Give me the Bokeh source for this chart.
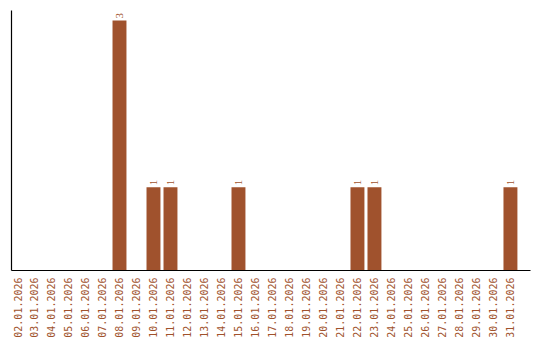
import math
from bokeh.plotting import figure
from bokeh.models import ColumnDataSource, Range1d, FixedTicker, LabelSet
from bokeh.embed import file_html
from bokeh.resources import INLINE

dates = ["02.01.2026", "03.01.2026", "04.01.2026", "05.01.2026", "06.01.2026",
         "07.01.2026", "08.01.2026", "09.01.2026", "10.01.2026", "11.01.2026",
         "12.01.2026", "13.01.2026", "14.01.2026", "15.01.2026", "16.01.2026",
         "17.01.2026", "18.01.2026", "19.01.2026", "20.01.2026", "21.01.2026",
         "22.01.2026", "23.01.2026", "24.01.2026", "25.01.2026", "26.01.2026",
         "27.01.2026", "28.01.2026", "29.01.2026", "30.01.2026", "31.01.2026"]
counts = [0, 0, 0, 0, 0, 0, 3, 0, 1, 1, 0, 0, 0, 1, 0, 0, 0, 0, 0, 0,
          1, 1, 0, 0, 0, 0, 0, 0, 0, 1]

COLOR = "#A0522D"
FONT = "DejaVu Sans Mono"

xs = list(range(len(dates)))
src = ColumnDataSource(dict(x=xs, top=counts))
lab_idx = [i for i, c in enumerate(counts) if c > 0]
lab_src = ColumnDataSource(dict(x=[xs[i] for i in lab_idx],
                                y=[counts[i] for i in lab_idx],
                                t=[str(counts[i]) for i in lab_idx]))

p = figure(width=540, height=340, output_backend="svg", toolbar_location=None,
           x_range=Range1d(-0.353, 30.18), y_range=Range1d(0, 3.12),
           min_border_left=11, min_border_right=10, min_border_top=10,
           min_border_bottom=0)
p.outline_line_color = None
p.xgrid.visible = False
p.ygrid.visible = False

p.vbar(x="x", top="top", width=0.82, source=src, fill_color=COLOR,
       line_color=None)

labels = LabelSet(x="x", y="y", text="t", source=lab_src, angle=math.pi / 2,
                  x_offset=0, y_offset=2, text_align="left",
                  text_baseline="middle", text_color=COLOR,
                  text_font=FONT, text_font_size="11px")
p.add_layout(labels)

xa = p.xaxis[0]
xa.ticker = FixedTicker(ticks=xs)
xa.major_label_overrides = {i: d for i, d in enumerate(dates)}
xa.major_label_orientation = math.pi / 2
xa.major_label_text_font = FONT
xa.major_label_text_font_size = "10px"
xa.major_label_text_color = COLOR
xa.major_tick_line_color = None
xa.minor_tick_line_color = None
xa.major_label_standoff = 1
xa.axis_line_color = "black"
xa.axis_line_width = 1.2

ya = p.yaxis[0]
ya.ticker = FixedTicker(ticks=[])
ya.major_label_text_font_size = "0px"
ya.major_tick_line_color = None
ya.minor_tick_line_color = None
ya.axis_line_color = "black"
ya.axis_line_width = 1.2
ya.major_label_standoff = 0

open("out.html", "w").write(file_html(p, INLINE))
